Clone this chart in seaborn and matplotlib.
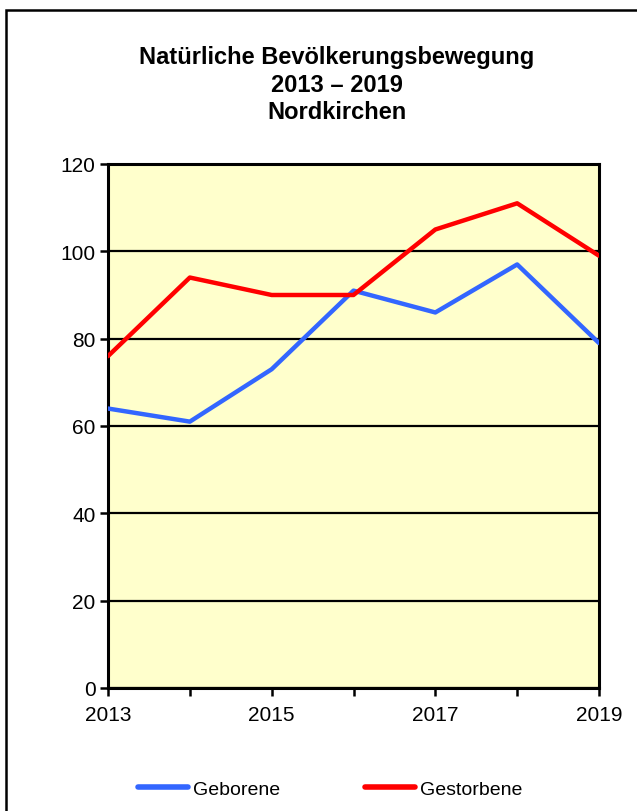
import matplotlib
import pandas as pd

matplotlib.use("Agg")
import matplotlib.pyplot as plt
import seaborn as sns
from matplotlib.patches import Rectangle
from matplotlib.ticker import MultipleLocator


YEARS = [2013, 2014, 2015, 2016, 2017, 2018, 2019]
GEBORENE = [64, 61, 73, 91, 86, 97, 79]
GESTORBENE = [76, 94, 90, 90, 105, 111, 99]
SERIES_NAMES = ["Geborene", "Gestorbene"]
TITLE = "Natürliche Bevölkerungsbewegung\n2013 – 2019\nNordkirchen"

COLORS = {"Geborene": "#3366FF", "Gestorbene": "#FF0000"}
PLOT_BG = "#FFFFCC"


def setup_style() -> None:
    sns.set_theme(style="white")
    plt.rcParams["font.family"] = ["Liberation Sans", "DejaVu Sans"]
    plt.rcParams["axes.unicode_minus"] = False
    plt.rcParams["text.color"] = "black"
    plt.rcParams["axes.labelcolor"] = "black"
    plt.rcParams["xtick.color"] = "black"
    plt.rcParams["ytick.color"] = "black"


def build_frame() -> pd.DataFrame:
    return pd.concat(
        [
            pd.DataFrame({"year": YEARS, "value": GEBORENE, "series": SERIES_NAMES[0]}),
            pd.DataFrame({"year": YEARS, "value": GESTORBENE, "series": SERIES_NAMES[1]}),
        ],
        ignore_index=True,
    )


def main() -> None:
    setup_style()
    df = build_frame()

    fig = plt.figure(figsize=(6.37, 8.12), dpi=100)
    fig.patch.set_facecolor("white")
    # outer frame, only top and left edges are visible in the reference
    fig.add_artist(
        Rectangle((6 / 637, -0.1), 1.2, 1 - 11 / 812 + 0.1, transform=fig.transFigure,
                  fill=False, edgecolor="black", linewidth=1.8)
    )

    ax = fig.add_axes([108 / 637, 1 - 689 / 812, 491 / 637, 524 / 812])
    ax.set_facecolor(PLOT_BG)

    sns.lineplot(
        data=df, x="year", y="value", hue="series", palette=COLORS,
        linewidth=3.2, ax=ax, legend=False, zorder=3,
    )

    ax.set_xlim(2013, 2019)
    ax.set_ylim(0, 120)
    ax.yaxis.set_major_locator(MultipleLocator(20))
    ax.set_xticks([2013, 2015, 2017, 2019])
    ax.set_xticks(YEARS, minor=True)
    ax.grid(axis="y", color="black", linewidth=1.6, zorder=1)
    ax.set_axisbelow(True)
    ax.set_xlabel("")
    ax.set_ylabel("")
    for spine in ax.spines.values():
        spine.set_color("black")
        spine.set_linewidth(2.2)
        spine.set_visible(True)

    ax.tick_params(axis="both", which="both", direction="out", color="black",
                   width=1.8, labelsize=15, labelcolor="black")
    ax.tick_params(axis="y", length=6, pad=3, left=True)
    ax.tick_params(axis="x", which="both", length=6, bottom=True, pad=6)

    fig.text(337 / 637, 1 - 85 / 812, TITLE, ha="center", va="center",
             fontsize=17, fontweight="bold", linespacing=1.24, color="black")

    handles = [plt.Line2D([], [], color=COLORS[name], linewidth=4, solid_capstyle="round")
               for name in SERIES_NAMES]
    legend = fig.legend(handles, SERIES_NAMES, loc="center", bbox_to_anchor=(330 / 637, 1 - 790 / 812),
                        ncol=2, frameon=False, fontsize=14, handlelength=2.6, handletextpad=0.25,
                        columnspacing=4.35)
    for text in legend.get_texts():
        text.set_color("black")

    fig.savefig("out.png", dpi=100)
    plt.close(fig)


if __name__ == "__main__":
    main()
